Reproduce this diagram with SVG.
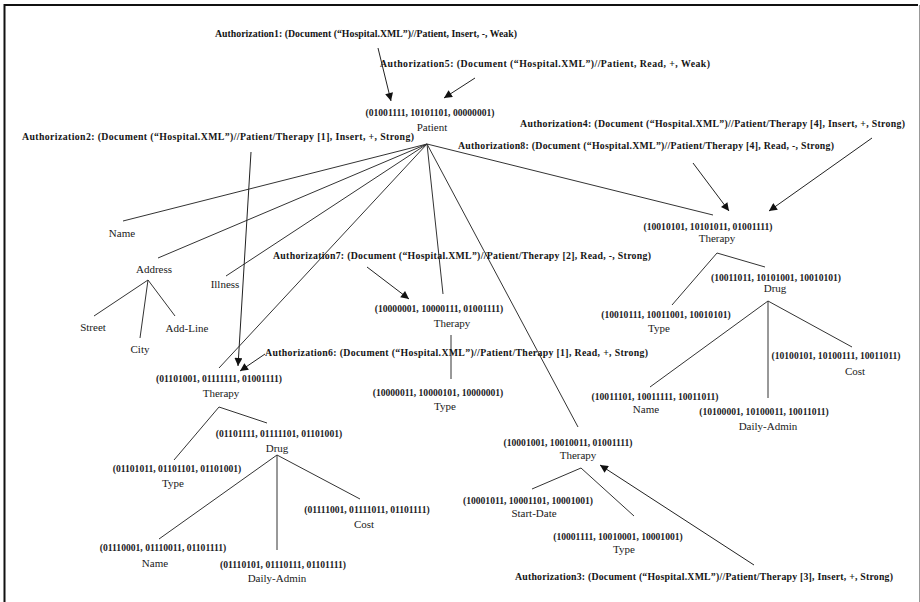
<svg xmlns="http://www.w3.org/2000/svg" width="920" height="602" viewBox="0 0 920 602">
  <defs>
    <marker id="arrow" viewBox="0 0 10 10" refX="10" refY="5" markerWidth="9" markerHeight="8" markerUnits="userSpaceOnUse" orient="auto">
      <path d="M0,0 L10,5 L0,10 z" fill="#111"/>
    </marker>
    <style>
      .auth { font-family: "Liberation Serif", "Times New Roman", serif; font-size: 9.8px; font-weight: bold; fill: #151515; }
      .code { font-family: "Liberation Serif", "Times New Roman", serif; font-size: 9.6px; font-weight: bold; fill: #1b1b24; text-anchor: middle; }
      .name { font-family: "Liberation Serif", "Times New Roman", serif; font-size: 11px; fill: #1a1a1a; text-anchor: middle; }
      .edge { stroke: #333; stroke-width: 1; fill: none; }
      .grant { stroke: #222; stroke-width: 1; fill: none; marker-end: url(#arrow); }
    </style>
  </defs>
  <rect width="920" height="602" fill="#fff"/>

  <!-- page frame -->
  <path d="M4.5,602 V5 H918" fill="none" stroke="#111" stroke-width="2"/>
  <path d="M919.5,5 V602" fill="none" stroke="#999" stroke-width="1"/>

  <!-- tree edges and authorization arrows -->
  <g id="connectors">
    <!-- Patient children -->
    <line class="edge" x1="427" y1="144" x2="123" y2="221"/>
    <line class="edge" x1="427" y1="144" x2="158" y2="258"/>
    <line class="edge" x1="427" y1="144" x2="226" y2="276"/>
    <line class="edge" x1="427" y1="144" x2="219" y2="368"/>
    <line class="edge" x1="427" y1="144" x2="443" y2="294"/>
    <line class="edge" x1="427" y1="144" x2="578" y2="427"/>
    <line class="edge" x1="427" y1="144" x2="713" y2="215"/>
    <!-- Address children -->
    <line class="edge" x1="148" y1="280" x2="94" y2="316"/>
    <line class="edge" x1="148" y1="280" x2="140" y2="338"/>
    <line class="edge" x1="148" y1="280" x2="175" y2="316"/>
    <!-- Therapy [1] -->
    <line class="edge" x1="219" y1="407" x2="174" y2="460"/>
    <line class="edge" x1="219" y1="407" x2="267" y2="423"/>
    <line class="edge" x1="277" y1="455" x2="159" y2="539"/>
    <line class="edge" x1="277" y1="455" x2="277" y2="550"/>
    <line class="edge" x1="277" y1="455" x2="360" y2="499"/>
    <!-- Therapy [2] -->
    <line class="edge" x1="451" y1="335" x2="451" y2="379"/>
    <!-- Therapy [4] -->
    <line class="edge" x1="717" y1="253" x2="765" y2="267"/>
    <line class="edge" x1="717" y1="253" x2="672" y2="305"/>
    <line class="edge" x1="768" y1="301" x2="650" y2="387"/>
    <line class="edge" x1="768" y1="301" x2="768" y2="398"/>
    <line class="edge" x1="768" y1="301" x2="852" y2="347"/>
    <!-- Therapy [3] -->
    <line class="edge" x1="581" y1="468" x2="532" y2="489"/>
    <line class="edge" x1="581" y1="468" x2="634" y2="516"/>

    <!-- authorizations -->
    <line class="grant" x1="378" y1="48" x2="391" y2="101"/>
    <line class="grant" x1="475" y1="78" x2="444" y2="98"/>
    <line class="grant" x1="251" y1="152" x2="238" y2="366"/>
    <line class="grant" x1="265" y1="354" x2="240" y2="371"/>
    <line class="grant" x1="367" y1="267" x2="409" y2="299"/>
    <line class="grant" x1="693" y1="163" x2="729" y2="211"/>
    <line class="grant" x1="872" y1="138" x2="769" y2="211"/>
    <line class="grant" x1="754" y1="565" x2="600" y2="465"/>
  </g>

  <!-- authorization labels -->
  <g id="authorizations">
    <text class="auth" x="215" y="36.5" textLength="302" lengthAdjust="spacing">Authorization1: (Document (“Hospital.XML”)//Patient, Insert, -, Weak)</text>
    <text class="auth" x="380" y="66.5" textLength="330" lengthAdjust="spacing">Authorization5: (Document (“Hospital.XML”)//Patient, Read, +, Weak)</text>
    <text class="auth" x="22" y="139.5" textLength="392" lengthAdjust="spacing">Authorization2: (Document (“Hospital.XML”)//Patient/Therapy [1], Insert, +, Strong)</text>
    <text class="auth" x="520" y="126.5" textLength="385" lengthAdjust="spacing">Authorization4: (Document (“Hospital.XML”)//Patient/Therapy [4], Insert, +, Strong)</text>
    <text class="auth" x="458" y="148.5" textLength="376" lengthAdjust="spacing">Authorization8: (Document (“Hospital.XML”)//Patient/Therapy [4], Read, -, Strong)</text>
    <text class="auth" x="273" y="258.5" textLength="378" lengthAdjust="spacing">Authorization7: (Document (“Hospital.XML”)//Patient/Therapy [2], Read, -, Strong)</text>
    <text class="auth" x="265" y="355.5" textLength="383" lengthAdjust="spacing">Authorization6: (Document (“Hospital.XML”)//Patient/Therapy [1], Read, +, Strong)</text>
    <text class="auth" x="515" y="579.5" textLength="378" lengthAdjust="spacing">Authorization3: (Document (“Hospital.XML”)//Patient/Therapy [3], Insert, +, Strong)</text>
  </g>

  <!-- nodes -->
  <g id="patient">
    <text class="code" x="430" y="115.5">(01001111, 10101101, 00000001)</text>
    <text class="name" x="432" y="131">Patient</text>
  </g>
  <g id="name"><text class="name" x="122" y="237">Name</text></g>
  <g id="address"><text class="name" x="154" y="273">Address</text></g>
  <g id="illness"><text class="name" x="225" y="288">Illness</text></g>
  <g id="street"><text class="name" x="93" y="331">Street</text></g>
  <g id="city"><text class="name" x="140" y="353">City</text></g>
  <g id="add-line"><text class="name" x="187" y="332">Add-Line</text></g>

  <g id="therapy1">
    <text class="code" x="219" y="381.5">(01101001, 01111111, 01001111)</text>
    <text class="name" x="221" y="397">Therapy</text>
  </g>
  <g id="therapy1-drug">
    <text class="code" x="279" y="436.5">(01101111, 01111101, 01101001)</text>
    <text class="name" x="277" y="452">Drug</text>
  </g>
  <g id="therapy1-type">
    <text class="code" x="177" y="471.5">(01101011, 01101101, 01101001)</text>
    <text class="name" x="173" y="487">Type</text>
  </g>
  <g id="therapy1-cost">
    <text class="code" x="367" y="512.5">(01111001, 01111011, 01101111)</text>
    <text class="name" x="364" y="528">Cost</text>
  </g>
  <g id="therapy1-name">
    <text class="code" x="163" y="550.5">(01110001, 01110011, 01101111)</text>
    <text class="name" x="155" y="567">Name</text>
  </g>
  <g id="therapy1-daily-admin">
    <text class="code" x="283" y="567.5">(01110101, 01110111, 01101111)</text>
    <text class="name" x="277" y="582">Daily-Admin</text>
  </g>

  <g id="therapy2">
    <text class="code" x="439" y="311.5">(10000001, 10000111, 01001111)</text>
    <text class="name" x="452" y="327">Therapy</text>
  </g>
  <g id="therapy2-type">
    <text class="code" x="438" y="395.5">(10000011, 10000101, 10000001)</text>
    <text class="name" x="445" y="410">Type</text>
  </g>

  <g id="therapy4">
    <text class="code" x="708" y="229.5">(10010101, 10101011, 01001111)</text>
    <text class="name" x="717" y="242">Therapy</text>
  </g>
  <g id="therapy4-drug">
    <text class="code" x="776" y="280.5">(10011011, 10101001, 10010101)</text>
    <text class="name" x="775" y="292">Drug</text>
  </g>
  <g id="therapy4-type">
    <text class="code" x="666" y="317.5">(10010111, 10011001, 10010101)</text>
    <text class="name" x="659" y="332">Type</text>
  </g>
  <g id="therapy4-cost">
    <text class="code" x="836" y="358.5">(10100101, 10100111, 10011011)</text>
    <text class="name" x="855" y="375">Cost</text>
  </g>
  <g id="therapy4-name">
    <text class="code" x="655" y="399.5">(10011101, 10011111, 10011011)</text>
    <text class="name" x="646" y="413">Name</text>
  </g>
  <g id="therapy4-daily-admin">
    <text class="code" x="764" y="414.5">(10100001, 10100011, 10011011)</text>
    <text class="name" x="768" y="430">Daily-Admin</text>
  </g>

  <g id="therapy3">
    <text class="code" x="568" y="445.5">(10001001, 10010011, 01001111)</text>
    <text class="name" x="578" y="459">Therapy</text>
  </g>
  <g id="therapy3-start-date">
    <text class="code" x="528" y="503.5">(10001011, 10001101, 10001001)</text>
    <text class="name" x="534" y="517">Start-Date</text>
  </g>
  <g id="therapy3-type">
    <text class="code" x="618" y="539.5">(10001111, 10010001, 10001001)</text>
    <text class="name" x="624" y="553">Type</text>
  </g>
</svg>
